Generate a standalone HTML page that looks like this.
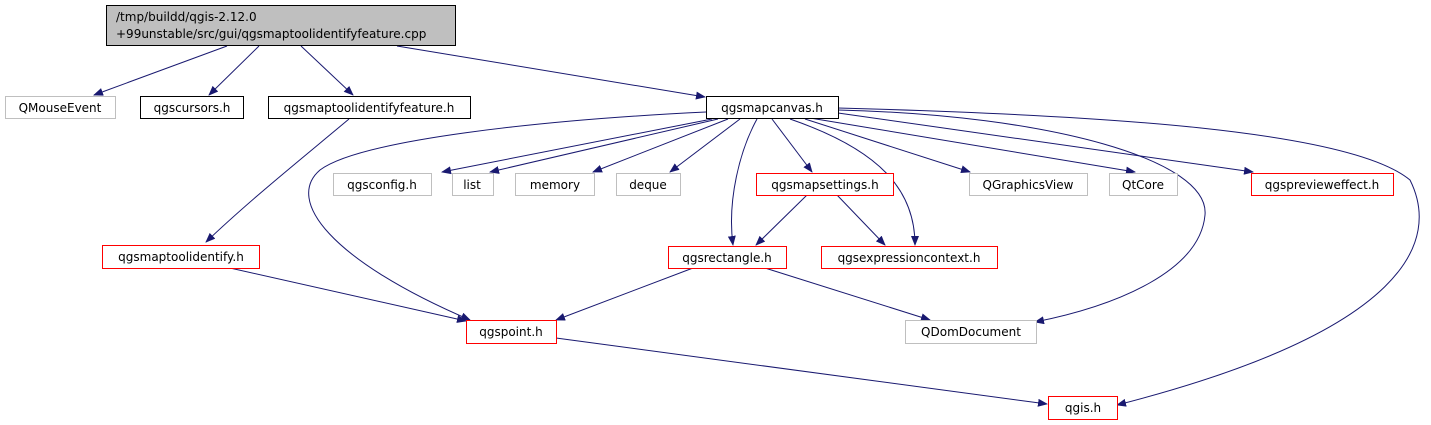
<!DOCTYPE html>
<html><head><style>body{margin:0;background:#fff}svg{display:block}text{font-family:"DejaVu Sans","Liberation Sans",sans-serif;font-size:12px;fill:#000}</style></head><body>
<svg width="1431" height="425" viewBox="0 0 1431 425" xmlns="http://www.w3.org/2000/svg">
<defs><marker id="a" markerWidth="10" markerHeight="8" refX="9" refY="4" orient="auto" markerUnits="userSpaceOnUse"><path d="M0,0 L10,4 L0,8 z" fill="#191970"/></marker></defs>
<g fill="none" stroke="#191970" stroke-width="1" marker-end="url(#a)">
<path d="M227,46 L94,95"/>
<path d="M259,46 L209,95"/>
<path d="M301,46 L353,95"/>
<path d="M397,46 L705,97"/>
<path d="M349,119 C300,160 250,200 206,242"/>
<path d="M706,112 C540,120 360,140 320,170 C285,200 330,260 470,320"/>
<path d="M712,119 L442,172"/>
<path d="M718,119 L490,172"/>
<path d="M728,119 L593,172"/>
<path d="M740,119 L670,172"/>
<path d="M757,119 C740,150 727,200 733,245"/>
<path d="M772,119 L812,172"/>
<path d="M790,119 C880,150 915,190 915,245"/>
<path d="M805,119 L970,172"/>
<path d="M810,118 L1135,172"/>
<path d="M838,113 L1253,172"/>
<path d="M838,110 C1050,115 1210,160 1205,215 C1200,270 1120,305 1035,322"/>
<path d="M838,108 C1100,115 1350,130 1410,180 C1440,240 1410,330 1117,405"/>
<path d="M807,195 L756,245"/>
<path d="M837,195 L885,245"/>
<path d="M230,268 L466,321"/>
<path d="M693,268 L556,320"/>
<path d="M765,268 L930,320"/>
<path d="M556,338 L1047,404"/>
</g>
<g stroke-width="1">
<rect x="106.5" y="5.5" width="349" height="40" fill="#bfbfbf" stroke="#000"/>
<rect x="5.5" y="96.5" width="110" height="22" fill="#fff" stroke="#bfbfbf"/>
<rect x="140.5" y="96.5" width="103" height="22" fill="#fff" stroke="#000"/>
<rect x="268.5" y="96.5" width="202" height="22" fill="#fff" stroke="#000"/>
<rect x="706.5" y="96.5" width="132" height="22" fill="#fff" stroke="#000"/>
<rect x="333.5" y="173.5" width="98" height="22" fill="#fff" stroke="#bfbfbf"/>
<rect x="452.5" y="173.5" width="41" height="22" fill="#fff" stroke="#bfbfbf"/>
<rect x="515.5" y="173.5" width="79" height="22" fill="#fff" stroke="#bfbfbf"/>
<rect x="616.5" y="173.5" width="64" height="22" fill="#fff" stroke="#bfbfbf"/>
<rect x="756.5" y="173.5" width="137" height="22" fill="#fff" stroke="#ff0000"/>
<rect x="969.5" y="173.5" width="118" height="22" fill="#fff" stroke="#bfbfbf"/>
<rect x="1109.5" y="173.5" width="68" height="22" fill="#fff" stroke="#bfbfbf"/>
<rect x="1251.5" y="173.5" width="142" height="22" fill="#fff" stroke="#ff0000"/>
<rect x="102.5" y="245.5" width="157" height="23" fill="#fff" stroke="#ff0000"/>
<rect x="668.5" y="246.5" width="118" height="22" fill="#fff" stroke="#ff0000"/>
<rect x="821.5" y="246.5" width="176" height="22" fill="#fff" stroke="#ff0000"/>
<rect x="466.5" y="320.5" width="90" height="23" fill="#fff" stroke="#ff0000"/>
<rect x="905.5" y="320.5" width="131" height="23" fill="#fff" stroke="#bfbfbf"/>
<rect x="1048.5" y="396.5" width="69" height="23" fill="#fff" stroke="#ff0000"/>
</g>
<text x="116" y="21">/tmp/buildd/qgis-2.12.0</text>
<text x="116" y="38">+99unstable/src/gui/qgsmaptoolidentifyfeature.cpp</text>
<g text-anchor="middle">
<text x="60" y="112">QMouseEvent</text>
<text x="192" y="112">qgscursors.h</text>
<text x="369" y="112">qgsmaptoolidentifyfeature.h</text>
<text x="772" y="112">qgsmapcanvas.h</text>
<text x="382" y="189">qgsconfig.h</text>
<text x="472" y="189">list</text>
<text x="555" y="189">memory</text>
<text x="648" y="189">deque</text>
<text x="825" y="189">qgsmapsettings.h</text>
<text x="1028" y="189">QGraphicsView</text>
<text x="1143" y="189">QtCore</text>
<text x="1322" y="189">qgspreviewеffect.h</text>
<text x="181" y="261">qgsmaptoolidentify.h</text>
<text x="727" y="262">qgsrectangle.h</text>
<text x="909" y="262">qgsexpressioncontext.h</text>
<text x="511" y="336">qgspoint.h</text>
<text x="971" y="336">QDomDocument</text>
<text x="1083" y="412">qgis.h</text>
</g>
</svg>
</body></html>
